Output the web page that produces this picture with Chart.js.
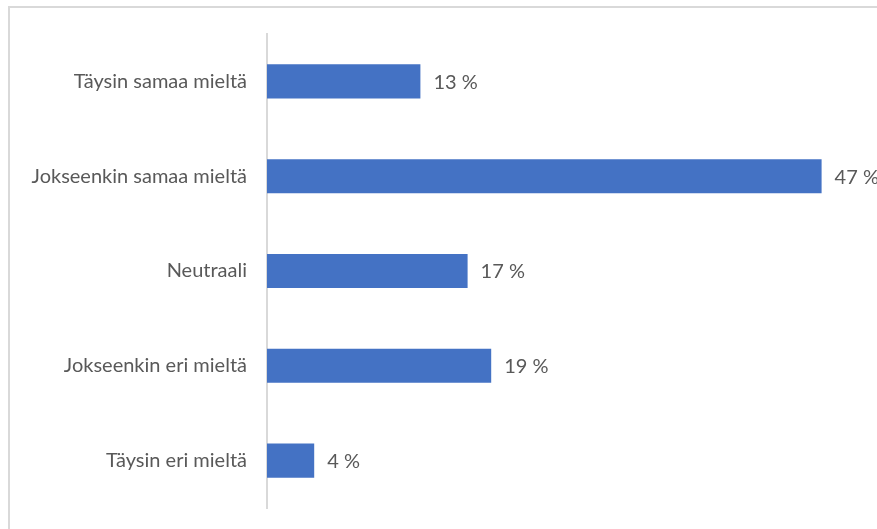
<!DOCTYPE html>
<html>
<head>
<meta charset="utf-8">
<script src="https://cdn.jsdelivr.net/npm/chart.js@4.4.0/dist/chart.umd.min.js"></script>
<style>
    body { margin: 0; background: #fff; overflow: hidden; }
    #frame {
        position: absolute; left: 8px; top: 6px;
        width: 920px; height: 560px;
        border: 2px solid #d9d9d9; box-sizing: border-box;
    }
    #wrap { position: absolute; left: 0; top: 0; width: 877px; height: 529px; }
</style>
</head>
<body>
<div id="frame"></div>
<div id="wrap"><canvas id="answersChart"></canvas></div>
<script>
var categories = ['Täysin samaa mieltä', 'Jokseenkin samaa mieltä', 'Neutraali', 'Jokseenkin eri mieltä', 'Täysin eri mieltä'];
var shares = [13, 47, 17, 19, 4];

var fontFamily = 'Lato, "Open Sans", sans-serif';
var fontSize = 20;

// writes "NN %" just past the end of every bar
var valueLabels = {
    id: 'valueLabels',
    afterDatasetsDraw: function (chart) {
        var ctx = chart.ctx;
        var meta = chart.getDatasetMeta(0);
        ctx.save();
        ctx.font = fontSize + 'px ' + fontFamily;
        ctx.fillStyle = '#595959';
        ctx.textAlign = 'left';
        ctx.textBaseline = 'middle';
        meta.data.forEach(function (bar, i) {
            ctx.fillText(shares[i] + ' %', bar.x + 13, bar.y + 1);
        });
        ctx.restore();
    }
};

var ctx = document.getElementById('answersChart').getContext('2d');
var chart = new Chart(ctx, {
    type: 'bar',
    data: {
        labels: categories,
        datasets: [{
            data: shares,
            backgroundColor: '#4472c4',
            borderWidth: 0,
            barPercentage: 0.36,
            categoryPercentage: 1
        }]
    },
    options: {
        indexAxis: 'y',
        responsive: true,
        maintainAspectRatio: false,
        animation: false,
        layout: {
            padding: { left: 0, right: 20, top: 34, bottom: 21 }
        },
        scales: {
            x: {
                display: false,
                min: 0,
                max: 50
            },
            y: {
                grid: { display: false, drawTicks: false },
                border: { display: true, color: '#d9d9d9', width: 2 },
                ticks: {
                    color: '#595959',
                    padding: 20,
                    font: { family: fontFamily, size: fontSize }
                },
                afterFit: function (scale) {
                    // fixed label column; labels sit at category centres so no extra end padding
                    scale.width = 267;
                    scale.paddingTop = 0;
                    scale.paddingBottom = 0;
                }
            }
        },
        plugins: {
            legend: { display: false },
            tooltip: { enabled: false }
        }
    },
    plugins: [valueLabels]
});
</script>
</body>
</html>
